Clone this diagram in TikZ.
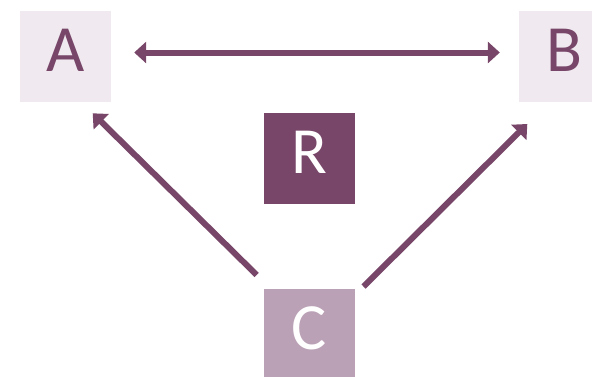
\documentclass[tikz,border=0pt]{standalone}
\usepackage{fontspec}
\setmainfont{Carlito}
\usetikzlibrary{arrows.meta,calc}
\definecolor{plum}{HTML}{784669}
\definecolor{plumlight}{HTML}{BBA1B6}
\definecolor{plumpale}{HTML}{F0EAF0}
\tikzset{
  box/.style={minimum width=91bp, minimum height=91bp, inner sep=0pt,
    text height=41bp, text depth=11bp,
    font=\fontsize{66bp}{66bp}\selectfont},
  outer/.style={box, fill=plumpale, text=plum},
  inner/.style={box, fill=plum, text=white},
  lower/.style={box, fill=plumlight, text=white},
  link/.style={draw=plum, line width=6bp,
    -{Triangle[length=12bp, width=21bp]}},
}
\begin{document}
\begin{tikzpicture}[x=1bp, y=-1bp]
  \useasboundingbox (0,0) rectangle (592,376);
  \clip (0,0) rectangle (592,376);
  \fill[white] (0,0) rectangle (592,376);

  % the four boxes
  \node[outer] (A) at (65.5,56.5) {A};
  \node[outer] (B) at (564.5,56.5) {B};
  \node[inner] (R) at (309.5,158.5) {R};
  \node[lower] (C) at (309.5,334.5) {C};

  % arrow ends kept clear of the boxes
  \coordinate (aR) at ($(A.east)+(23,-4)$);
  \coordinate (bL) at ($(B.west)+(-19,-4)$);
  \coordinate (aB) at (92.7,113.3);
  \coordinate (bB) at (527.3,124);
  \coordinate (cL) at (256.7,275);
  \coordinate (cR) at (363.5,286.5);

  % connectors
  \draw[link, {Triangle[length=12bp, width=21bp]}-{Triangle[length=12bp, width=21bp]}] (aR) -- (bL);
  \draw[link] (cL) -- (aB);
  \draw[link] (cR) -- (bB);
\end{tikzpicture}
\end{document}
